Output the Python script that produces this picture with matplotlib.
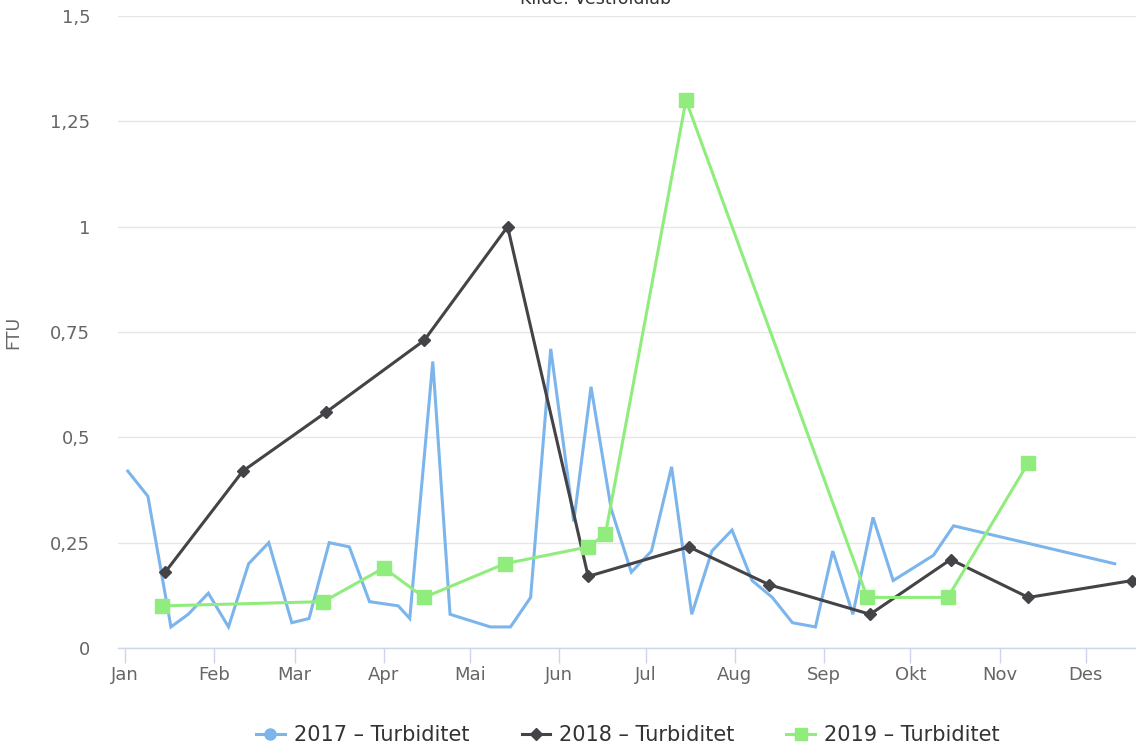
import matplotlib
matplotlib.use("Agg")
import matplotlib.pyplot as plt
from matplotlib.lines import Line2D

# ---- data (day of year, FTU) ----
month_labels = ["Jan", "Feb", "Mar", "Apr", "Mai", "Jun", "Jul", "Aug", "Sep", "Okt", "Nov", "Des"]
month_start_days = [0, 31, 59, 90, 120, 151, 181, 212, 243, 273, 304, 334]

days_2017 = [1, 8, 16, 22, 29, 36, 43, 50, 58, 64, 71, 78, 85, 95, 99, 107, 113,
             127, 134, 141, 148, 156, 162, 169, 176, 183, 190, 197, 204, 211, 218,
             225, 232, 240, 246, 253, 260, 267, 281, 288, 344]
vals_2017 = [0.42, 0.36, 0.05, 0.08, 0.13, 0.05, 0.20, 0.25, 0.06, 0.07, 0.25, 0.24,
             0.11, 0.10, 0.07, 0.68, 0.08, 0.05, 0.05, 0.12, 0.71, 0.30, 0.62, 0.33,
             0.18, 0.23, 0.43, 0.08, 0.23, 0.28, 0.16, 0.12, 0.06, 0.05, 0.23, 0.08,
             0.31, 0.16, 0.22, 0.29, 0.20]

days_2018 = [14, 41, 70, 104, 133, 161, 196, 224, 259, 287, 314, 350]
vals_2018 = [0.18, 0.42, 0.56, 0.73, 1.00, 0.17, 0.24, 0.15, 0.08, 0.21, 0.12, 0.16]

days_2019 = [13, 69, 90, 104, 132, 161, 167, 195, 258, 286, 314]
vals_2019 = [0.10, 0.11, 0.19, 0.12, 0.20, 0.24, 0.27, 1.30, 0.12, 0.12, 0.44]

series_names = ["2017 – Turbiditet", "2018 – Turbiditet", "2019 – Turbiditet"]
colors = ["#7cb5ec", "#434348", "#90ed7d"]

W, H = 1136, 749
fig = plt.figure(figsize=(W / 100, H / 100), dpi=100)
left_px, right_px, top_px, bottom_px = 118, 1136, 16, 648
ax = fig.add_axes([left_px / W, 1 - bottom_px / H, (right_px - left_px) / W, (bottom_px - top_px) / H])

ax.plot(days_2017, vals_2017, color=colors[0], lw=2.2, solid_joinstyle="miter", zorder=3)
ax.plot(days_2018, vals_2018, color=colors[1], lw=2.2, marker="D", ms=6, zorder=4, clip_on=False)
ax.plot(days_2019, vals_2019, color=colors[2], lw=2.2, marker="s", ms=10, zorder=5, clip_on=False)

ax.set_xlim(-2.4, 351.4)
ax.set_ylim(0, 1.5)
yt = [0, 0.25, 0.5, 0.75, 1.0, 1.25, 1.5]
ax.set_yticks(yt)
ax.set_yticklabels(["0", "0,25", "0,5", "0,75", "1", "1,25", "1,5"])
ax.set_xticks(month_start_days)
ax.set_xticklabels(month_labels)

for s in ["top", "right", "left"]:
    ax.spines[s].set_visible(False)
ax.spines["bottom"].set_color("#ccd6eb")
ax.spines["bottom"].set_linewidth(1)
ax.grid(axis="y", color="#e6e6e6", lw=1)
ax.set_axisbelow(True)
ax.tick_params(axis="y", length=0, pad=20, labelsize=13, labelcolor="#666666")
ax.tick_params(axis="x", length=11, width=1, color="#ccd6eb", pad=2, labelsize=13, labelcolor="#666666")
for lbl in ax.get_yticklabels():
    lbl.set_horizontalalignment("right")

ax.set_ylabel("FTU", fontsize=12.5, color="#666666")
ax.yaxis.set_label_coords(-96 / (right_px - left_px), 0.5)

fig.text(596 / W, 1 - 4 / H, "Kilde: Vestfoldlab", ha="center", va="baseline", fontsize=12.5, color="#333333")

handles = [
    Line2D([], [], color=colors[0], lw=2.2, marker="o", ms=8),
    Line2D([], [], color=colors[1], lw=2.2, marker="D", ms=6),
    Line2D([], [], color=colors[2], lw=2.2, marker="s", ms=9),
]
fig.legend(handles, series_names, loc="center", bbox_to_anchor=(628 / W, 1 - 735 / H), ncol=3, frameon=False,
           fontsize=15, labelcolor="#333333", handlelength=1.35, handletextpad=0.45, columnspacing=2.5)

fig.savefig("out.png", dpi=100)
